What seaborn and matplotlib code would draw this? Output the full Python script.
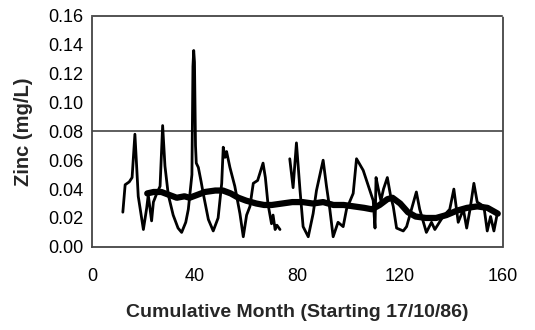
import numpy as np
import pandas as pd
import seaborn as sns
import matplotlib
matplotlib.use("Agg")
import matplotlib.pyplot as plt

# thin line (measured zinc), first stretch
month_a = [12.0, 12.9, 14.5, 15.6, 16.7, 17.4, 18.0, 18.7, 20.0, 21.3, 21.9, 23.2,
           23.9, 25.0, 26.5, 27.5, 28.4, 29.7, 31.6, 33.5, 34.9, 36.5, 37.5, 38.9,
           39.3, 39.6, 39.9, 40.3, 40.6, 41.4, 42.5, 43.3, 45.3, 47.2, 49.1, 50.5, 51.1,
           51.8, 52.4, 53.7, 55.6, 57.6, 58.9, 60.2, 61.5, 62.3, 62.8, 64.5, 66.6,
           67.5, 68.5, 69.9, 70.5, 71.3, 72.0, 73.2]
zinc_a = [0.024, 0.043, 0.045, 0.048, 0.078, 0.055, 0.035, 0.027, 0.012, 0.027, 0.036, 0.018,
          0.031, 0.036, 0.042, 0.084, 0.056, 0.036, 0.022, 0.013, 0.010, 0.017, 0.026, 0.050,
          0.125, 0.136, 0.128, 0.070, 0.058, 0.055, 0.045, 0.037, 0.019, 0.011, 0.020, 0.044, 0.069,
          0.062, 0.066, 0.055, 0.042, 0.023, 0.007, 0.022, 0.028, 0.038, 0.044, 0.046, 0.058,
          0.048, 0.030, 0.016, 0.022, 0.012, 0.015, 0.012]

# thin line, second stretch (after the gap)
month_b = [77.0, 78.3, 79.6, 81.0, 82.2, 84.2, 86.1, 87.4, 89.0, 90.0, 91.3, 92.6,
           93.9, 95.8, 97.8, 99.1, 101.7, 103.0, 105.6, 109.5, 110.2, 110.6, 111.5, 112.5,
           113.5, 115.0, 116.3, 117.3, 118.6, 121.2, 122.5, 124.4, 126.3, 127.6, 130.2, 132.2,
           133.5, 136.7, 139.3, 140.9, 142.6, 144.6, 145.9, 147.2, 148.7, 150.0, 152.6, 153.9,
           155.2, 156.5, 157.8]
zinc_b = [0.061, 0.041, 0.072, 0.039, 0.014, 0.007, 0.023, 0.039, 0.052, 0.060, 0.042, 0.026,
          0.007, 0.017, 0.014, 0.026, 0.037, 0.061, 0.053, 0.032, 0.013, 0.048, 0.040, 0.032,
          0.040, 0.048, 0.035, 0.028, 0.013, 0.011, 0.014, 0.026, 0.038, 0.026, 0.010, 0.017,
          0.012, 0.021, 0.026, 0.040, 0.017, 0.026, 0.013, 0.026, 0.044, 0.031, 0.028, 0.011,
          0.021, 0.011, 0.023]

# thick smoothed line
month_s = [21.5, 24, 27, 30, 33, 36, 38, 41, 44, 48, 51, 54, 57, 60, 64, 67, 70, 74,
           78, 82, 86, 90, 94, 98, 102, 106, 109, 112, 115, 117, 120, 123, 126, 130,
           134, 138, 142, 146, 150, 154, 158]
zinc_s = [0.037, 0.038, 0.038, 0.036, 0.034, 0.035, 0.034, 0.036, 0.038, 0.039, 0.039,
          0.037, 0.034, 0.032, 0.030, 0.029, 0.029, 0.030, 0.031, 0.031, 0.030, 0.031,
          0.029, 0.029, 0.028, 0.027, 0.026, 0.029, 0.033, 0.034, 0.030, 0.024, 0.021,
          0.020, 0.020, 0.022, 0.025, 0.027, 0.028, 0.027, 0.023]

guideline = 0.08
xticks = [0, 40, 80, 120, 160]
yticks = [0.00, 0.02, 0.04, 0.06, 0.08, 0.10, 0.12, 0.14, 0.16]

sns.set_style("white")
plt.rcParams["font.family"] = ["Liberation Sans", "DejaVu Sans"]

fig, ax = plt.subplots(figsize=(5.35, 3.3), dpi=100)
fig.subplots_adjust(left=0.172, right=0.940, top=0.952, bottom=0.252)

ax.axhline(guideline, color="#333333", lw=1.1, zorder=1)

sns.lineplot(x=month_a, y=zinc_a, ax=ax, color="black", lw=2.0, sort=False)
sns.lineplot(x=month_b, y=zinc_b, ax=ax, color="black", lw=2.0, sort=False)
sns.lineplot(x=month_s, y=zinc_s, ax=ax, color="black", lw=4.5, sort=False)

ax.set_xlim(0, 160)
ax.set_ylim(0, 0.16)
ax.set_xticks(xticks)
ax.set_yticks(yticks)
ax.set_xticklabels([str(t) for t in xticks])
ax.set_yticklabels([f"{t:.2f}" for t in yticks])
ax.tick_params(axis="both", labelsize=13, colors="black", length=4, width=1)
ax.tick_params(axis="x", direction="inout", pad=13)
ax.tick_params(axis="y", direction="out", pad=2)

for s in ax.spines.values():
    s.set_visible(True)
    s.set_linestyle((0, (1, 1)))
    s.set_color("#444444")
    s.set_linewidth(1.3)

ax.set_xlabel("Cumulative Month (Starting 17/10/86)", fontsize=14, fontweight="bold", labelpad=14)
ax.set_ylabel("Zinc (mg/L)", fontsize=14.5, fontweight="bold", labelpad=11)

fig.savefig("out.png", dpi=100)
